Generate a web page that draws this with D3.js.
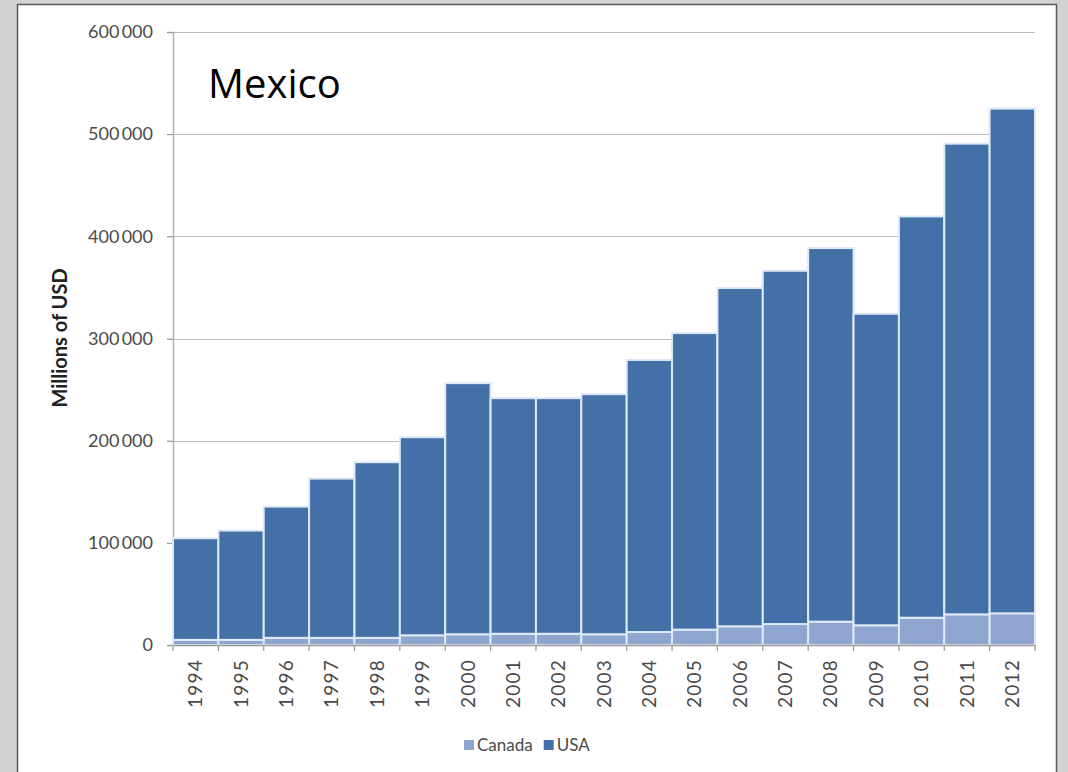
<!DOCTYPE html>
<html>
<head>
<meta charset="utf-8">
<script src="https://cdn.jsdelivr.net/npm/d3@7"></script>
<style>
  html, body { margin: 0; padding: 0; background: #d3d3d3; }
  svg { display: block; }
</style>
</head>
<body>
<svg id="chart" width="1068" height="772"></svg>
<script>
const years = ["1994","1995","1996","1997","1998","1999","2000","2001","2002","2003","2004","2005","2006","2007","2008","2009","2010","2011","2012"];
const canada = [5000,5000,7000,7000,7000,9500,10500,11000,11000,10500,12700,15000,18300,20500,22800,19300,26700,30000,31000];
const usa = [99500,107000,128400,155900,171900,193900,245800,230600,230600,235000,266300,290300,331100,345800,365700,304900,392800,460700,494000];
const seriesNames = ["Canada","USA"];
const yTicks = [0,100000,200000,300000,400000,500000,600000];
const title = "Mexico";
const yTitle = "Millions of USD";

const colors = {Canada: "#8ea5cf", USA: "#4470a8"};

const svg = d3.select("#chart");
// frame
svg.append("rect").attr("x",0).attr("y",0).attr("width",1068).attr("height",772).attr("fill","#d3d3d3");
svg.append("rect").attr("x",17.5).attr("y",4.5).attr("width",1039).attr("height",800)
  .attr("fill","#ffffff").attr("stroke","#5a5a5a").attr("stroke-width",1.5);

const m = {left:173, right:1035, top:32, bottom:645};
const x = d3.scaleBand().domain(years).range([m.left, m.right]).padding(0);
const y = d3.scaleLinear().domain([0,600000]).range([m.bottom, m.top]);

const fmt = v => d3.format(",")(v).replace(/,/g, "\u2009");

// gridlines
svg.append("g").selectAll("line").data(yTicks.filter(t => t > 0)).join("line")
  .attr("x1", m.left - 6).attr("x2", m.right)
  .attr("y1", d => Math.round(y(d)) + 0.5).attr("y2", d => Math.round(y(d)) + 0.5)
  .attr("stroke","#bdbdbd").attr("stroke-width",1.2);

// y axis
const yAxis = svg.append("g").attr("transform", `translate(${m.left},0)`)
  .call(d3.axisLeft(y).tickValues(yTicks).tickFormat(fmt).tickSize(6).tickPadding(14));
yAxis.select(".domain").attr("stroke","#b0b0b0").attr("stroke-width",1.5);
yAxis.selectAll(".tick line").attr("stroke","#999");
yAxis.selectAll("text").attr("font-family","Lato, 'Open Sans', sans-serif").attr("font-size",18).attr("fill","#4a4a4a");

// stacked data
const rows = years.map((yr,i) => ({year: yr, Canada: canada[i], USA: usa[i]}));
const stack = d3.stack().keys(seriesNames)(rows);

svg.append("g").selectAll("g").data(stack).join("g")
  .attr("fill", d => colors[d.key])
  .selectAll("rect").data(d => d).join("rect")
  .attr("x", d => x(d.data.year))
  .attr("width", x.bandwidth())
  .attr("y", d => y(d[1]))
  .attr("height", d => y(d[0]) - y(d[1]))
  .attr("stroke","#dde9f7").attr("stroke-width",2);

// x axis
const xAxis = svg.append("g").attr("transform", `translate(0,${m.bottom})`)
  .call(d3.axisBottom(x).tickSize(0).tickPadding(0));
xAxis.select(".domain").attr("stroke","#999").attr("stroke-width",1.5);
xAxis.selectAll(".tick text")
  .attr("font-family","Lato, 'Open Sans', sans-serif").attr("font-size",19).attr("fill","#4a4a4a")
  .attr("letter-spacing","1.2px")
  .attr("text-anchor","end").attr("dy","0.35em")
  .attr("transform","translate(0,14) rotate(-90)");
// boundary ticks
const bounds = years.map(yr => x(yr)).concat([m.right]);
svg.append("g").selectAll("line").data(bounds).join("line")
  .attr("x1", d => d).attr("x2", d => d)
  .attr("y1", m.bottom).attr("y2", m.bottom + 6)
  .attr("stroke","#999").attr("stroke-width",1.2);

// y title
svg.append("text")
  .attr("transform", `translate(67,338) rotate(-90)`)
  .attr("text-anchor","middle")
  .attr("font-family","Lato, 'Open Sans', sans-serif").attr("font-weight","bold")
  .attr("font-size",20).attr("fill","#222")
  .text(yTitle);

// chart title
svg.append("text").attr("x",208).attr("y",98)
  .attr("font-family","'Open Sans', sans-serif").attr("font-size",40).attr("fill","#000")
  .text(title);

// legend
const legend = svg.append("g").attr("transform","translate(464,745)");
let lx = 0;
seriesNames.forEach(name => {
  const g = legend.append("g").attr("transform",`translate(${lx},0)`);
  g.append("rect").attr("x",0).attr("y",-5).attr("width",10).attr("height",10).attr("fill",colors[name]);
  const t = g.append("text").attr("x",13).attr("y",0).attr("dy","0.35em")
    .attr("font-family","Lato, 'Open Sans', sans-serif").attr("font-size",17).attr("fill","#4a4a4a")
    .text(name);
  lx += 13 + t.node().getComputedTextLength() + 11;
});
</script>
</body>
</html>
